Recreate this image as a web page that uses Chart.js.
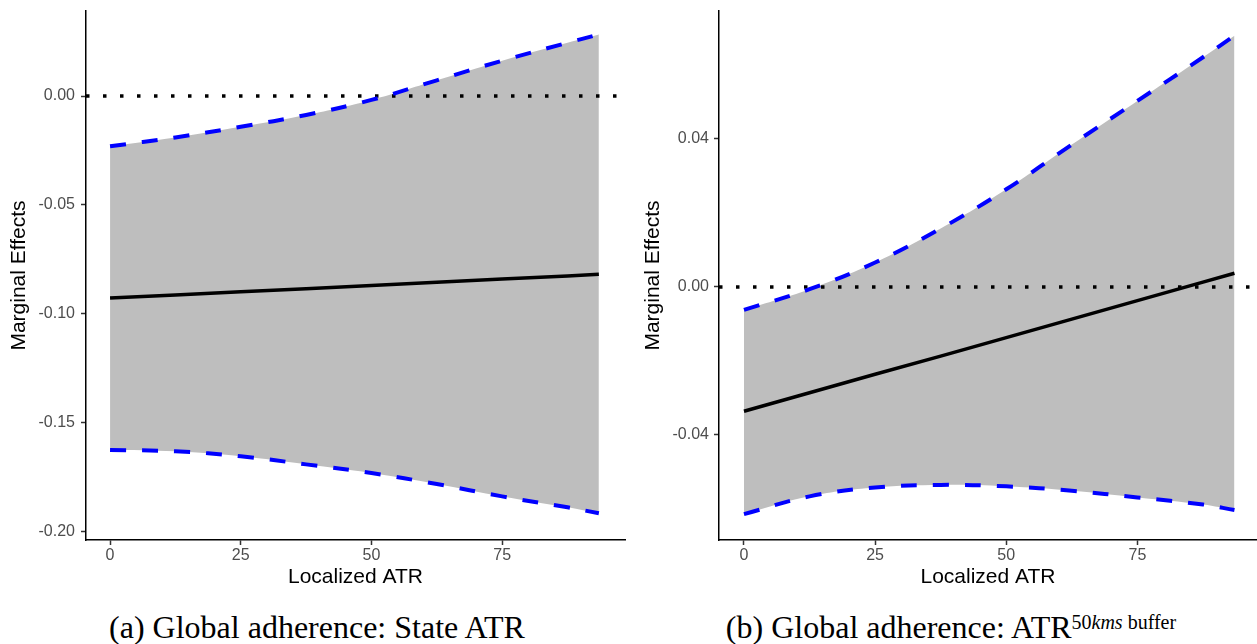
<!DOCTYPE html>
<html lang="en">
<head>
<meta charset="UTF-8">
<title>Marginal effects of localized ATR</title>
<script src="https://cdn.jsdelivr.net/npm/chart.js"></script>
<style>
  body { margin: 0; background: #fff; width: 1257px; height: 644px; overflow: hidden; position: relative; }
  .painel { position: absolute; top: 0; }
  .legenda {
    position: absolute; top: 611px;
    font-family: "Liberation Serif", serif; font-size: 32px; line-height: 32px;
    color: #000; white-space: nowrap; transform: translateX(-50%);
  }
  .legenda sup { font-size: 20px; vertical-align: baseline; position: relative; top: -9px; }
</style>
</head>
<body>

<div class="painel" style="left:0"><canvas id="graficoEstado" width="630" height="600"></canvas></div>
<div class="painel" style="left:630px"><canvas id="graficoBuffer" width="627" height="600"></canvas></div>

<div class="legenda" style="left:317px">(a) Global adherence: State ATR</div>
<div class="legenda" style="left:951px">(b) Global adherence: ATR<sup>50<i>kms</i> buffer</sup></div>

<script>
// valores de Localized ATR onde as curvas foram lidas
const atrX = [0, 12.5, 25, 37.5, 50, 62.5, 75, 87.5, 93.5];
const xTicks = [0, 25, 50, 75];

// (a) State ATR
const estadoMedia = [-0.0927, -0.0913, -0.0898, -0.0884, -0.0869, -0.0855, -0.0840, -0.0826, -0.0818];
const estadoSup   = [-0.0231, -0.0190, -0.0141, -0.0087, -0.0018, 0.0072, 0.0162, 0.0244, 0.0282];
const estadoInf   = [-0.1624, -0.1630, -0.1653, -0.1690, -0.1730, -0.1780, -0.1837, -0.1887, -0.1914];
const estadoYTicks = [0, -0.05, -0.10, -0.15, -0.20];

// (b) ATR 50kms buffer
const bufferMedia = [-0.0336, -0.0286, -0.0236, -0.0187, -0.0137, -0.0087, -0.0037, 0.0013, 0.0037];
const bufferSup   = [-0.0062, -0.0006, 0.0066, 0.0158, 0.0264, 0.0385, 0.0503, 0.0621, 0.0679];
const bufferInf   = [-0.0614, -0.0566, -0.0542, -0.0535, -0.0539, -0.0551, -0.0569, -0.0588, -0.0603];
const bufferYTicks = [0.04, 0, -0.04];

const pontos = (ys) => atrX.map((x, i) => ({ x: x, y: ys[i] }));
const fonteTick = { family: '"Liberation Sans", Arial, sans-serif', size: 16 };
const fonteTitulo = { family: '"Liberation Sans", Arial, sans-serif', size: 21 };

function montaGrafico(id, cfg) {
    const ctx = document.getElementById(id).getContext('2d');
    new Chart(ctx, {
        type: 'line',
        data: {
            datasets: [
                { data: pontos(cfg.media), borderColor: '#000', borderWidth: 3.5, pointRadius: 0, fill: false },
                { data: pontos(cfg.sup), borderColor: '#0000ff', borderWidth: 4, borderDash: [16, 16],
                  borderCapStyle: 'butt', pointRadius: 0, fill: '+1', backgroundColor: '#bebebe', tension: 0.4 },
                { data: pontos(cfg.inf), borderColor: '#0000ff', borderWidth: 4, borderDash: [16, 16],
                  borderCapStyle: 'butt', pointRadius: 0, fill: false, tension: 0.4 },
                { data: [{ x: cfg.xMin, y: 0 }, { x: cfg.xMax, y: 0 }], borderColor: '#000', borderWidth: 3.5,
                  borderDash: [3.5, 13.5], borderCapStyle: 'butt', pointRadius: 0, fill: false }
            ]
        },
        options: {
            responsive: false,
            animation: false,
            layout: { padding: { top: 11, right: cfg.padDir, bottom: 0, left: 0 } },
            plugins: {
                legend: { display: false },
                tooltip: { enabled: false },
                filler: { drawTime: 'beforeDatasetsDraw' }
            },
            scales: {
                x: {
                    type: 'linear',
                    min: cfg.xMin, max: cfg.xMax,
                    afterBuildTicks: s => { s.ticks = xTicks.map(v => ({ value: v })); },
                    afterFit: s => { s.height = 60; s.paddingLeft = 0; s.paddingRight = 0; },
                    border: { display: true, color: '#000', width: 1.5 },
                    grid: { drawOnChartArea: false, tickLength: 5, tickColor: '#333', tickWidth: 1.5 },
                    ticks: { font: fonteTick, color: '#4d4d4d', padding: 1, maxRotation: 0,
                             callback: v => String(v) },
                    title: { display: true, text: 'Localized ATR', font: fonteTitulo, color: '#000',
                             padding: { top: 0, bottom: 10 } }
                },
                y: {
                    min: cfg.yMin, max: cfg.yMax,
                    afterBuildTicks: s => { s.ticks = cfg.yTicks.map(v => ({ value: v })); },
                    afterFit: s => { s.width = cfg.larguraY; s.paddingTop = 0; s.paddingBottom = 0; },
                    border: { display: true, color: '#000', width: 1.5 },
                    grid: { drawOnChartArea: false, tickLength: 5, tickColor: '#333', tickWidth: 1.5 },
                    ticks: { font: fonteTick, color: '#4d4d4d', padding: cfg.padTick,
                             callback: v => v.toFixed(2) },
                    title: { display: true, text: 'Marginal Effects', font: fonteTitulo, color: '#000',
                             padding: { top: cfg.padTitulo, bottom: 0 } }
                }
            }
        }
    });
}

montaGrafico('graficoEstado', {
    media: estadoMedia, sup: estadoSup, inf: estadoInf, yTicks: estadoYTicks,
    xMin: -4.6, xMax: 98.5, yMin: -0.2037, yMax: 0.039,
    larguraY: 86, padTick: 6, padTitulo: 7, padDir: 5
});

montaGrafico('graficoBuffer', {
    media: bufferMedia, sup: bufferSup, inf: bufferInf, yTicks: bufferYTicks,
    xMin: -4.76, xMax: 97.8, yMin: -0.0684, yMax: 0.0746,
    larguraY: 89, padTick: 5, padTitulo: 11, padDir: 0
});
</script>
</body>
</html>
